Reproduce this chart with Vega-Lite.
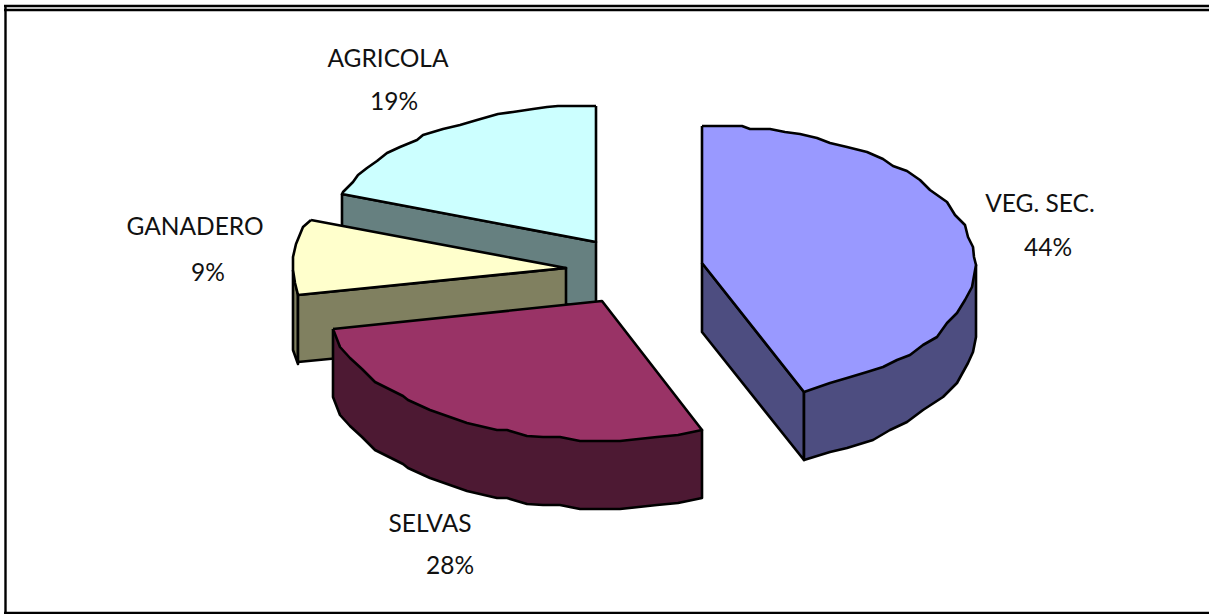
{
  "$schema": "https://vega.github.io/schema/vega-lite/v6.json",
  "width": 1209,
  "height": 614,
  "autosize": {"type": "none"},
  "padding": 0,
  "background": "white",
  "view": {"stroke": null},
  "layer": [
    {
      "data": {"values": [
        {"p":"top1","i":0,"x":4,"y":6},{"p":"top1","i":1,"x":1209,"y":6},
        {"p":"top2","i":0,"x":4,"y":10},{"p":"top2","i":1,"x":1209,"y":10},
        {"p":"bottom","i":0,"x":4,"y":613},{"p":"bottom","i":1,"x":1209,"y":613},
        {"p":"left","i":0,"x":5.5,"y":5},{"p":"left","i":1,"x":5.5,"y":614}
      ]},
      "mark": {"type": "line", "stroke": "black", "strokeWidth": 2.4, "clip": false},
      "encoding": {
        "x": {"field": "x", "type": "quantitative", "scale": {"domain": [0, 1209]}, "axis": null},
        "y": {"field": "y", "type": "quantitative", "scale": {"domain": [0, 614], "reverse": true}, "axis": null},
        "detail": {"field": "p"},
        "order": {"field": "i"}
      }
    },
    {
      "data": {"values": [
        {"p":"agricola lado","t":"agricola lado","i":0,"x":342,"y":194},{"p":"agricola lado","t":"agricola lado","i":1,"x":596,"y":242},{"p":"agricola lado","t":"agricola lado","i":2,"x":596,"y":310},{"p":"agricola lado","t":"agricola lado","i":3,"x":342,"y":262},{"p":"agricola lado","t":"agricola lado","i":4,"x":342,"y":194},

        {"p":"agricola","t":"agricola","i":0,"x":596,"y":106},{"p":"agricola","t":"agricola","i":1,"x":558,"y":106},{"p":"agricola","t":"agricola","i":2,"x":547,"y":107},{"p":"agricola","t":"agricola","i":3,"x":533,"y":109},{"p":"agricola","t":"agricola","i":4,"x":513,"y":112},{"p":"agricola","t":"agricola","i":5,"x":498,"y":114},{"p":"agricola","t":"agricola","i":6,"x":477,"y":120},{"p":"agricola","t":"agricola","i":7,"x":460,"y":125},{"p":"agricola","t":"agricola","i":8,"x":443,"y":129},{"p":"agricola","t":"agricola","i":9,"x":423,"y":135},{"p":"agricola","t":"agricola","i":10,"x":417,"y":140},{"p":"agricola","t":"agricola","i":11,"x":400,"y":147},{"p":"agricola","t":"agricola","i":12,"x":387,"y":153},{"p":"agricola","t":"agricola","i":13,"x":377,"y":161},{"p":"agricola","t":"agricola","i":14,"x":367,"y":168},{"p":"agricola","t":"agricola","i":15,"x":358,"y":175},{"p":"agricola","t":"agricola","i":16,"x":353,"y":182},{"p":"agricola","t":"agricola","i":17,"x":343,"y":192},{"p":"agricola","t":"agricola","i":18,"x":342,"y":194},{"p":"agricola","t":"agricola","i":19,"x":596,"y":242},{"p":"agricola","t":"agricola","i":20,"x":596,"y":106},

        {"p":"ganadero borde","t":"ganadero lado","i":0,"x":293,"y":270},{"p":"ganadero borde","t":"ganadero lado","i":1,"x":293,"y":350},{"p":"ganadero borde","t":"ganadero lado","i":2,"x":298,"y":364},{"p":"ganadero borde","t":"ganadero lado","i":3,"x":298,"y":295},{"p":"ganadero borde","t":"ganadero lado","i":4,"x":293,"y":270},

        {"p":"ganadero lado","t":"ganadero lado","i":0,"x":298,"y":295},{"p":"ganadero lado","t":"ganadero lado","i":1,"x":566,"y":268},{"p":"ganadero lado","t":"ganadero lado","i":2,"x":566,"y":336},{"p":"ganadero lado","t":"ganadero lado","i":3,"x":298,"y":362},{"p":"ganadero lado","t":"ganadero lado","i":4,"x":298,"y":295},

        {"p":"ganadero","t":"ganadero","i":0,"x":311,"y":220},{"p":"ganadero","t":"ganadero","i":1,"x":566,"y":268},{"p":"ganadero","t":"ganadero","i":2,"x":298,"y":295},{"p":"ganadero","t":"ganadero","i":3,"x":295,"y":283},{"p":"ganadero","t":"ganadero","i":4,"x":293,"y":270},{"p":"ganadero","t":"ganadero","i":5,"x":293,"y":257},{"p":"ganadero","t":"ganadero","i":6,"x":296,"y":244},{"p":"ganadero","t":"ganadero","i":7,"x":303,"y":227},{"p":"ganadero","t":"ganadero","i":8,"x":311,"y":220},

        {"p":"selvas lado","t":"selvas lado","i":0,"x":333,"y":329},{"p":"selvas lado","t":"selvas lado","i":1,"x":333,"y":397},{"p":"selvas lado","t":"selvas lado","i":2,"x":340,"y":415},{"p":"selvas lado","t":"selvas lado","i":3,"x":350,"y":426},{"p":"selvas lado","t":"selvas lado","i":4,"x":362,"y":437},{"p":"selvas lado","t":"selvas lado","i":5,"x":375,"y":450},{"p":"selvas lado","t":"selvas lado","i":6,"x":403,"y":464},{"p":"selvas lado","t":"selvas lado","i":7,"x":408,"y":468},{"p":"selvas lado","t":"selvas lado","i":8,"x":430,"y":478},{"p":"selvas lado","t":"selvas lado","i":9,"x":467,"y":491},{"p":"selvas lado","t":"selvas lado","i":10,"x":497,"y":498},{"p":"selvas lado","t":"selvas lado","i":11,"x":507,"y":498},{"p":"selvas lado","t":"selvas lado","i":12,"x":527,"y":504},{"p":"selvas lado","t":"selvas lado","i":13,"x":543,"y":505},{"p":"selvas lado","t":"selvas lado","i":14,"x":560,"y":505},{"p":"selvas lado","t":"selvas lado","i":15,"x":580,"y":509},{"p":"selvas lado","t":"selvas lado","i":16,"x":620,"y":509},{"p":"selvas lado","t":"selvas lado","i":17,"x":657,"y":505},{"p":"selvas lado","t":"selvas lado","i":18,"x":678,"y":503},{"p":"selvas lado","t":"selvas lado","i":19,"x":702,"y":498},{"p":"selvas lado","t":"selvas lado","i":20,"x":702,"y":430},{"p":"selvas lado","t":"selvas lado","i":21,"x":333,"y":329},

        {"p":"selvas","t":"selvas","i":0,"x":333,"y":329},{"p":"selvas","t":"selvas","i":1,"x":602,"y":301},{"p":"selvas","t":"selvas","i":2,"x":702,"y":430},{"p":"selvas","t":"selvas","i":3,"x":678,"y":435},{"p":"selvas","t":"selvas","i":4,"x":657,"y":437},{"p":"selvas","t":"selvas","i":5,"x":620,"y":441},{"p":"selvas","t":"selvas","i":6,"x":580,"y":441},{"p":"selvas","t":"selvas","i":7,"x":560,"y":437},{"p":"selvas","t":"selvas","i":8,"x":543,"y":437},{"p":"selvas","t":"selvas","i":9,"x":527,"y":436},{"p":"selvas","t":"selvas","i":10,"x":507,"y":430},{"p":"selvas","t":"selvas","i":11,"x":497,"y":430},{"p":"selvas","t":"selvas","i":12,"x":467,"y":423},{"p":"selvas","t":"selvas","i":13,"x":430,"y":410},{"p":"selvas","t":"selvas","i":14,"x":408,"y":400},{"p":"selvas","t":"selvas","i":15,"x":403,"y":396},{"p":"selvas","t":"selvas","i":16,"x":375,"y":382},{"p":"selvas","t":"selvas","i":17,"x":362,"y":369},{"p":"selvas","t":"selvas","i":18,"x":350,"y":358},{"p":"selvas","t":"selvas","i":19,"x":340,"y":347},{"p":"selvas","t":"selvas","i":20,"x":333,"y":329},

        {"p":"veg corte","t":"veg lado","i":0,"x":702,"y":263},{"p":"veg corte","t":"veg lado","i":1,"x":702,"y":332},{"p":"veg corte","t":"veg lado","i":2,"x":804,"y":460},{"p":"veg corte","t":"veg lado","i":3,"x":804,"y":392},{"p":"veg corte","t":"veg lado","i":4,"x":702,"y":263},

        {"p":"veg lado","t":"veg lado","i":0,"x":804,"y":392},{"p":"veg lado","t":"veg lado","i":1,"x":804,"y":460},{"p":"veg lado","t":"veg lado","i":2,"x":830,"y":452},{"p":"veg lado","t":"veg lado","i":3,"x":847,"y":448},{"p":"veg lado","t":"veg lado","i":4,"x":873,"y":440},{"p":"veg lado","t":"veg lado","i":5,"x":890,"y":430},{"p":"veg lado","t":"veg lado","i":6,"x":907,"y":422},{"p":"veg lado","t":"veg lado","i":7,"x":923,"y":410},{"p":"veg lado","t":"veg lado","i":8,"x":943,"y":397},{"p":"veg lado","t":"veg lado","i":9,"x":957,"y":383},{"p":"veg lado","t":"veg lado","i":10,"x":968,"y":363},{"p":"veg lado","t":"veg lado","i":11,"x":973,"y":352},{"p":"veg lado","t":"veg lado","i":12,"x":976,"y":337},{"p":"veg lado","t":"veg lado","i":13,"x":976,"y":265},{"p":"veg lado","t":"veg lado","i":14,"x":804,"y":392},

        {"p":"veg","t":"veg","i":0,"x":702,"y":126},{"p":"veg","t":"veg","i":1,"x":742,"y":126},{"p":"veg","t":"veg","i":2,"x":750,"y":129},{"p":"veg","t":"veg","i":3,"x":770,"y":129},{"p":"veg","t":"veg","i":4,"x":785,"y":132},{"p":"veg","t":"veg","i":5,"x":800,"y":134},{"p":"veg","t":"veg","i":6,"x":817,"y":138},{"p":"veg","t":"veg","i":7,"x":830,"y":143},{"p":"veg","t":"veg","i":8,"x":847,"y":147},{"p":"veg","t":"veg","i":9,"x":867,"y":152},{"p":"veg","t":"veg","i":10,"x":883,"y":159},{"p":"veg","t":"veg","i":11,"x":893,"y":166},{"p":"veg","t":"veg","i":12,"x":907,"y":171},{"p":"veg","t":"veg","i":13,"x":920,"y":180},{"p":"veg","t":"veg","i":14,"x":930,"y":190},{"p":"veg","t":"veg","i":15,"x":947,"y":202},{"p":"veg","t":"veg","i":16,"x":955,"y":215},{"p":"veg","t":"veg","i":17,"x":965,"y":225},{"p":"veg","t":"veg","i":18,"x":968,"y":237},{"p":"veg","t":"veg","i":19,"x":973,"y":247},{"p":"veg","t":"veg","i":20,"x":974,"y":257},{"p":"veg","t":"veg","i":21,"x":976,"y":265},{"p":"veg","t":"veg","i":22,"x":972,"y":287},{"p":"veg","t":"veg","i":23,"x":965,"y":300},{"p":"veg","t":"veg","i":24,"x":957,"y":313},{"p":"veg","t":"veg","i":25,"x":947,"y":323},{"p":"veg","t":"veg","i":26,"x":937,"y":337},{"p":"veg","t":"veg","i":27,"x":923,"y":345},{"p":"veg","t":"veg","i":28,"x":910,"y":355},{"p":"veg","t":"veg","i":29,"x":897,"y":360},{"p":"veg","t":"veg","i":30,"x":883,"y":367},{"p":"veg","t":"veg","i":31,"x":867,"y":372},{"p":"veg","t":"veg","i":32,"x":847,"y":378},{"p":"veg","t":"veg","i":33,"x":830,"y":383},{"p":"veg","t":"veg","i":34,"x":804,"y":392},{"p":"veg","t":"veg","i":35,"x":702,"y":263},{"p":"veg","t":"veg","i":36,"x":702,"y":126}
      ]},
      "mark": {"type": "line", "filled": true, "stroke": "black", "strokeWidth": 2.6, "strokeJoin": "round", "clip": false, "fillOpacity": 1},
      "encoding": {
        "x": {"field": "x", "type": "quantitative", "scale": {"domain": [0, 1209]}, "axis": null},
        "y": {"field": "y", "type": "quantitative", "scale": {"domain": [0, 614], "reverse": true}, "axis": null},
        "detail": {"field": "p"},
        "order": {"field": "i"},
        "fill": {
          "field": "t",
          "type": "nominal",
          "legend": null,
          "scale": {
            "domain": ["agricola lado", "agricola", "ganadero lado", "ganadero", "selvas lado", "selvas", "veg lado", "veg"],
            "range": ["#668080", "#ccffff", "#808060", "#ffffcc", "#4d1933", "#993366", "#4d4d80", "#9999ff"]
          }
        }
      }
    },
    {
      "data": {"values": [
        {"texto":"AGRICOLA","x":388,"y":58},{"texto":"19%","x":394,"y":101},
        {"texto":"GANADERO","x":195,"y":226},{"texto":"9%","x":208,"y":272},
        {"texto":"VEG. SEC.","x":1040,"y":203},{"texto":"44%","x":1048,"y":247},
        {"texto":"SELVAS","x":430,"y":523},{"texto":"28%","x":450,"y":565}
      ]},
      "mark": {"type": "text", "font": "Lato", "fontSize": 24.5, "color": "#111111", "align": "center", "baseline": "middle", "dy": 2},
      "encoding": {
        "x": {"field": "x", "type": "quantitative", "scale": {"domain": [0, 1209]}, "axis": null},
        "y": {"field": "y", "type": "quantitative", "scale": {"domain": [0, 614], "reverse": true}, "axis": null},
        "text": {"field": "texto"}
      }
    }
  ]
}
